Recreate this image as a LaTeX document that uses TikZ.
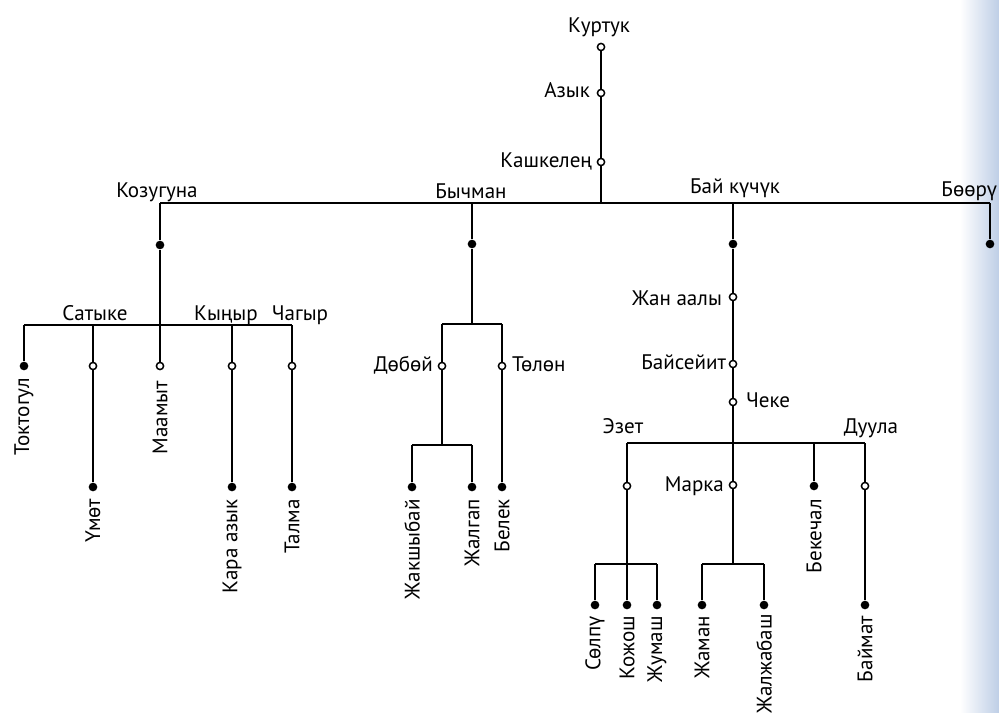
\documentclass[tikz,border=0pt]{standalone}
\usepackage{fontspec}
\setmainfont{PT Sans}
\begin{document}
\begin{tikzpicture}[x=0.75pt,y=-0.75pt,
  line width=1.6pt,
  dot/.style={circle,fill=black,draw=none,inner sep=0pt,minimum size=6.5pt},
  open/.style={circle,fill=white,draw=black,line width=1.1pt,inner sep=0pt,minimum size=5.4pt},
  lab/.style={inner sep=0pt,font=\fontsize{15.8}{18}\selectfont},
  vlab/.style={lab,rotate=90,anchor=east}]
\useasboundingbox (0,0) rectangle (999,713);
\shade[left color=white,right color={rgb,255:red,190;green,206;blue,230},draw=none] (960,0) rectangle (999,713);
% top line
\node[open] (kurtuk) at (601,47) {};
\node[lab,anchor=base] (kurtukL) at (599,33) {Куртук};
\node[open] (azyk) at (601,93) {};
\node[lab,anchor=base east] (azykL) at (591,98) {Азык};
\node[open] (kashk) at (601,162) {};
\node[lab,anchor=base east] (kashkL) at (593,167) {Кашкелең};
\coordinate (top) at (601,203);
\draw (kurtuk) -- (azyk) -- (kashk) -- (top);
% main horizontal
\coordinate (kozJ) at (160,203);
\coordinate (bychJ) at (472,203);
\coordinate (baiJ) at (733,203);
\coordinate (boorJ) at (990,203);
\draw (kozJ) -- (boorJ);
\node[lab,anchor=base] (kozL) at (157,197) {Козугуна};
\node[lab,anchor=base] (bychL) at (471,199) {Бычман};
\node[lab,anchor=base] (baiL) at (735,194) {Бай күчүк};
\node[lab,anchor=base east] (boorL) at (998,196) {Бөөрү};
\node[dot] (koz) at (160,245) {};
\node[dot] (bych) at (472,244) {};
\node[dot] (bai) at (733,244) {};
\node[dot] (boor) at (990,244) {};
\draw (kozJ) -- (koz);
\draw (bychJ) -- (bych);
\draw (baiJ) -- (bai);
\draw (boorJ) -- (boor);
% Kozuguna subtree
\node[open] (maamyt) at (160,366) {};
\draw (koz) -- (maamyt);
\coordinate (toktJ) at (24,325);
\coordinate (satJ) at (93,325);
\coordinate (kynJ) at (232,325);
\coordinate (chagJ) at (292,325);
\draw (toktJ) -- (chagJ);
\node[lab,anchor=base] (satL) at (95,320) {Сатыке};
\node[lab,anchor=base] (kynL) at (226,320) {Кыңыр};
\node[lab,anchor=base] (chagL) at (300,320) {Чагыр};
\node[dot] (toktogul) at (24,366) {};
\draw (toktJ) -- (toktogul);
\node[open] (satyke) at (93,366) {};
\node[dot] (umot) at (93,487) {};
\draw (satJ) -- (satyke) -- (umot);
\node[open] (kynyr) at (232,366) {};
\node[dot] (karaazyk) at (232,487) {};
\draw (kynJ) -- (kynyr) -- (karaazyk);
\node[open] (chagyr) at (292,366) {};
\node[dot] (talma) at (292,487) {};
\draw (chagJ) -- (chagyr) -- (talma);
\node[vlab] (toktL) at (24,377) {Токтогул};
\node[vlab] (maamytL) at (160,380) {Маамыт};
\node[vlab] (umotL) at (93,498) {Үмөт};
\node[vlab] (karaL) at (232,498) {Кара азык};
\node[vlab] (talmaL) at (292,498) {Талма};
% Bychman subtree
\coordinate (bychH) at (472,324);
\draw (bych) -- (bychH);
\coordinate (dobJ) at (442,324);
\coordinate (tolJ) at (502,324);
\draw (dobJ) -- (tolJ);
\node[open] (dobo) at (442,366) {};
\coordinate (dobH) at (442,445);
\draw (dobJ) -- (dobo) -- (dobH);
\coordinate (jakJ) at (412,445);
\coordinate (jalJ) at (472,445);
\draw (jakJ) -- (jalJ);
\node[dot] (jakshybai) at (412,487) {};
\node[dot] (jalgap) at (472,487) {};
\draw (jakJ) -- (jakshybai);
\draw (jalJ) -- (jalgap);
\node[open] (tolon) at (502,366) {};
\node[dot] (belek) at (502,487) {};
\draw (tolJ) -- (tolon) -- (belek);
\node[lab,anchor=base east] (doboL) at (434,371) {Дөбөй};
\node[lab,anchor=base west] (tolonL) at (511,371) {Төлөн};
\node[vlab] (jakL) at (412,498) {Жакшыбай};
\node[vlab] (jalL) at (472,498) {Жалгап};
\node[vlab] (belekL) at (502,498) {Белек};
% Bai kuchuk subtree
\node[open] (janaaly) at (733,297) {};
\node[open] (baiseit) at (733,364) {};
\node[open] (cheke) at (733,402) {};
\coordinate (baiH) at (733,443);
\node[open] (marka) at (733,485) {};
\coordinate (markaH) at (733,564);
\draw (bai) -- (janaaly) -- (baiseit) -- (cheke) -- (baiH) -- (marka) -- (markaH);
\node[lab,anchor=base east] (janL) at (723,305) {Жан аалы};
\node[lab,anchor=base east] (baiseitL) at (727,369) {Байсейит};
\node[lab,anchor=base west] (chekeL) at (745,407) {Чеке};
\node[lab,anchor=base east] (markaL) at (725,491) {Марка};
\coordinate (ezetJ) at (627,443);
\coordinate (bekJ) at (814,443);
\coordinate (duuJ) at (865,443);
\draw (ezetJ) -- (duuJ);
\node[lab,anchor=base] (ezetL) at (623,433) {Эзет};
\node[lab,anchor=base] (duulaL) at (871,433) {Дуула};
\node[open] (ezet) at (627,486) {};
\coordinate (ezetH) at (627,564);
\draw (ezetJ) -- (ezet) -- (ezetH);
\coordinate (solJ) at (595,564);
\coordinate (kozhJ) at (627,564);
\coordinate (zhumJ) at (657,564);
\draw (solJ) -- (zhumJ);
\node[dot] (solpu) at (595,605) {};
\node[dot] (kozhosh) at (627,605) {};
\node[dot] (zhumash) at (657,605) {};
\draw (solJ) -- (solpu);
\draw (kozhJ) -- (kozhosh);
\draw (zhumJ) -- (zhumash);
\coordinate (zhamJ) at (702,564);
\coordinate (zhalJ) at (764,564);
\draw (zhamJ) -- (zhalJ);
\node[dot] (zhaman) at (702,605) {};
\node[dot] (zhalzhabash) at (764,605) {};
\draw (zhamJ) -- (zhaman);
\draw (zhalJ) -- (zhalzhabash);
\node[dot] (bekechal) at (814,486) {};
\draw (bekJ) -- (bekechal);
\node[open] (duula) at (865,486) {};
\node[dot] (baimat) at (865,605) {};
\draw (duuJ) -- (duula) -- (baimat);
\node[vlab] (solL) at (595,615) {Сөлпү};
\node[vlab] (kozhL) at (627,615) {Кожош};
\node[vlab] (zhumL) at (657,615) {Жумаш};
\node[vlab] (zhamL) at (702,615) {Жаман};
\node[vlab] (zhalL) at (764,613) {Жалжабаш};
\node[vlab] (bekL) at (814,498) {Бекечал};
\node[vlab] (baimatL) at (865,615) {Баймат};
\end{tikzpicture}
\end{document}
